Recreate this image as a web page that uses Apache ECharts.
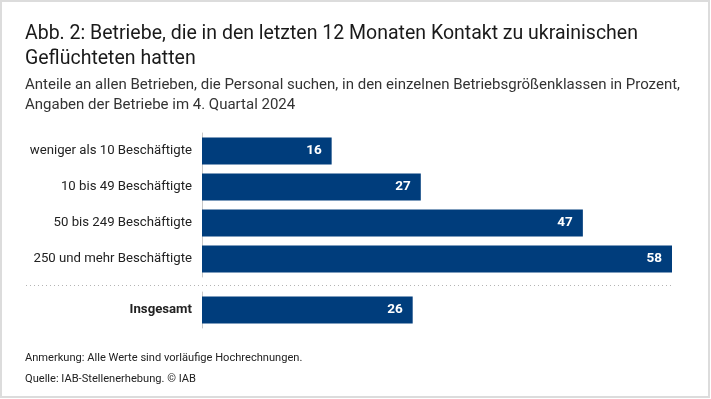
<!DOCTYPE html>
<html>
<head>
<meta charset="utf-8">
<script src="https://cdn.jsdelivr.net/npm/echarts@6/dist/echarts.min.js"></script>
<style>
  html, body { margin: 0; padding: 0; background: #fff; }
  #chart { width: 711px; height: 399px; }
</style>
</head>
<body>
<div id="chart"></div>
<script>
const FONT = "Roboto, sans-serif";
const BAR_COLOR = '#003d7c';

const categories = [
  'weniger als 10 Beschäftigte',
  '10 bis 49 Beschäftigte',
  '50 bis 249 Beschäftigte',
  '250 und mehr Beschäftigte'
];
const values = [16, 27, 47, 58];
const totalCategories = ['Insgesamt'];
const totalValues = [26];

const titleText = 'Abb. 2: Betriebe, die in den letzten 12 Monaten Kontakt zu ukrainischen\nGeflüchteten hatten';
const subtitleText = 'Anteile an allen Betrieben, die Personal suchen, in den einzelnen Betriebsgrößenklassen in Prozent,\nAngaben der Betriebe im 4. Quartal 2024';
const noteText = 'Anmerkung: Alle Werte sind vorläufige Hochrechnungen.\nQuelle: IAB-Stellenerhebung. © IAB';

const el = document.getElementById('chart');
const chart = echarts.init(el, null, { renderer: 'canvas' });

function valueAxis(gridIndex) {
  return {
    type: 'value', gridIndex, min: 0, max: 58, show: false
  };
}
function catAxis(gridIndex, data, bold) {
  return {
    type: 'category', gridIndex, data, inverse: true,
    axisLine: { show: true, lineStyle: { color: '#c8c8c8', width: 1 } },
    axisTick: { show: false },
    axisLabel: {
      margin: 10, fontFamily: FONT, fontSize: 13.2, color: '#222',
      fontWeight: bold ? 'bold' : 'normal'
    }
  };
}
const barLabel = {
  show: true, position: 'insideRight', distance: 10,
  color: '#fff', fontFamily: FONT, fontSize: 13.5, fontWeight: 'bold'
};

chart.setOption({
  animation: false,
  backgroundColor: '#fff',
  title: [
    {
      text: titleText, left: 20, top: 17,
      textStyle: { fontFamily: FONT, fontSize: 19.5, fontWeight: 'normal', color: '#1a1a1a', lineHeight: 25 }
    },
    {
      text: subtitleText, left: 20, top: 70,
      textStyle: { fontFamily: FONT, fontSize: 15, fontWeight: 'normal', color: '#333', lineHeight: 20 }
    },
    {
      text: noteText, left: 20, top: 343,
      textStyle: { fontFamily: FONT, fontSize: 11.1, fontWeight: 'normal', color: '#222', lineHeight: 21 }
    }
  ],
  grid: [
    { left: 202, width: 470, top: 133, height: 144 },
    { left: 202, width: 470, top: 292, height: 36 }
  ],
  xAxis: [valueAxis(0), valueAxis(1)],
  yAxis: [catAxis(0, categories, false), catAxis(1, totalCategories, true)],
  series: [
    {
      type: 'bar', xAxisIndex: 0, yAxisIndex: 0, data: values,
      barWidth: 27, itemStyle: { color: BAR_COLOR }, label: barLabel
    },
    {
      type: 'bar', xAxisIndex: 1, yAxisIndex: 1, data: totalValues,
      barWidth: 27, itemStyle: { color: BAR_COLOR }, label: barLabel
    }
  ],
  graphic: [
    {
      type: 'rect', silent: true,
      shape: { x: 1, y: 1, width: 708, height: 396 },
      style: { fill: null, stroke: '#dcdcdc', lineWidth: 2 }
    },
    {
      type: 'line', silent: true,
      shape: { x1: 26, y1: 285.5, x2: 672, y2: 285.5 },
      style: { stroke: '#b4b4b4', lineWidth: 1, lineDash: [1, 3] }
    }
  ]
});
</script>
</body>
</html>
